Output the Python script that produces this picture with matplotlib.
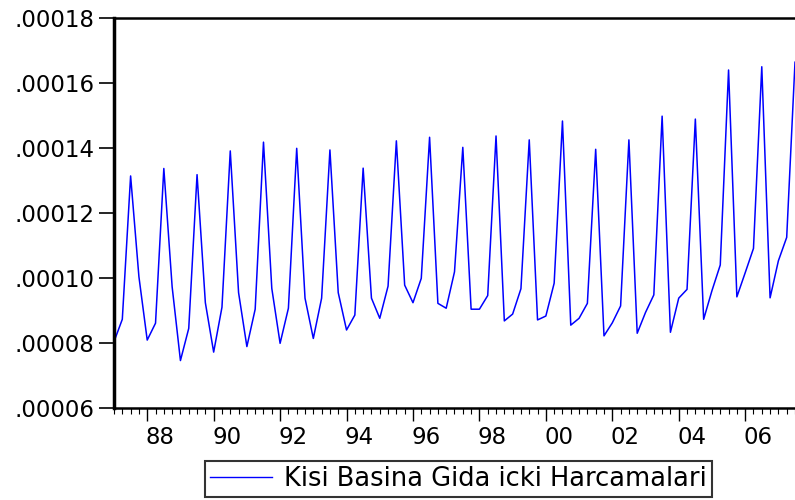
import matplotlib
matplotlib.use("Agg")
import matplotlib.pyplot as plt
from matplotlib.ticker import FixedLocator, FuncFormatter
from matplotlib.transforms import ScaledTranslation
import numpy as np

start_year = 1987
values = [
    8.04e-5, 8.73e-5, 13.14e-5, 10.04e-5,
    8.09e-5, 8.61e-5, 13.37e-5, 9.73e-5,
    7.46e-5, 8.45e-5, 13.18e-5, 9.24e-5,
    7.72e-5, 9.10e-5, 13.91e-5, 9.55e-5,
    7.89e-5, 9.04e-5, 14.18e-5, 9.68e-5,
    7.99e-5, 9.07e-5, 13.99e-5, 9.38e-5,
    8.14e-5, 9.38e-5, 13.94e-5, 9.55e-5,
    8.40e-5, 8.86e-5, 13.38e-5, 9.38e-5,
    8.76e-5, 9.75e-5, 14.22e-5, 9.78e-5,
    9.24e-5, 9.99e-5, 14.33e-5, 9.22e-5,
    9.07e-5, 10.19e-5, 14.02e-5, 9.04e-5,
    9.04e-5, 9.46e-5, 14.37e-5, 8.68e-5,
    8.89e-5, 9.67e-5, 14.25e-5, 8.71e-5,
    8.83e-5, 9.84e-5, 14.83e-5, 8.55e-5,
    8.76e-5, 9.22e-5, 13.96e-5, 8.22e-5,
    8.62e-5, 9.14e-5, 14.25e-5, 8.30e-5,
    8.94e-5, 9.48e-5, 14.98e-5, 8.33e-5,
    9.38e-5, 9.65e-5, 14.89e-5, 8.73e-5,
    9.61e-5, 10.40e-5, 16.40e-5, 9.42e-5,
    10.16e-5, 10.91e-5, 16.50e-5, 9.39e-5,
    10.53e-5, 11.25e-5, 16.64e-5,
]
series_label = "Kisi Basina Gida icki Harcamalari"
year_ticks = [1988, 1990, 1992, 1994, 1996, 1998, 2000, 2002, 2004, 2006]
year_labels = ["88", "90", "92", "94", "96", "98", "00", "02", "04", "06"]
y_ticks = [0.00006, 0.00008, 0.00010, 0.00012, 0.00014, 0.00016, 0.00018]

plt.rcParams['font.family'] = ['DejaVu Sans']

fig = plt.figure(figsize=(7.95, 5.0), dpi=100)
ax = fig.add_axes([114/795, 1 - 408/500, (795 - 114)/795, 390/500])

x = start_year + np.arange(len(values)) / 4.0
line, = ax.plot(x, values, color=(0, 0, 1), lw=1.1, label=series_label)

ax.set_xlim(start_year, start_year + (len(values) - 1) / 4.0)
ax.set_ylim(y_ticks[0], y_ticks[-1])

ax.set_xticks(year_ticks)
ax.set_xticklabels(year_labels)
ax.xaxis.set_minor_locator(FixedLocator(np.arange(start_year, start_year + len(values) / 4.0, 0.25)))
ax.set_yticks(y_ticks)
ax.yaxis.set_major_formatter(FuncFormatter(lambda v, p: ("%.5f" % v).lstrip("0")))

ax.tick_params(axis='y', direction='out', length=11, width=1.2, labelsize=16.5, pad=3)
ax.tick_params(axis='x', which='major', direction='out', length=9, width=1.0, labelsize=16.5, pad=4)
ax.tick_params(axis='x', which='minor', direction='out', length=4, width=0.8)

offset = ScaledTranslation(13/100, 0, fig.dpi_scale_trans)
for lab in ax.get_xticklabels():
    lab.set_transform(lab.get_transform() + offset)

ax.spines['right'].set_visible(False)
ax.spines['left'].set_linewidth(2.5)
ax.spines['bottom'].set_linewidth(1.8)
ax.spines['top'].set_linewidth(1.8)

leg = fig.legend(handles=[line], loc='center', bbox_to_anchor=(458.5/795, 1 - 479/500),
                 fontsize=18.5, frameon=True, fancybox=False, edgecolor='black',
                 handlelength=2.4, handletextpad=0.5, borderpad=0.2)
leg.get_frame().set_linewidth(1.5)
leg.get_lines()[0].set_linewidth(1.0)

fig.savefig("out.png", dpi=100)
